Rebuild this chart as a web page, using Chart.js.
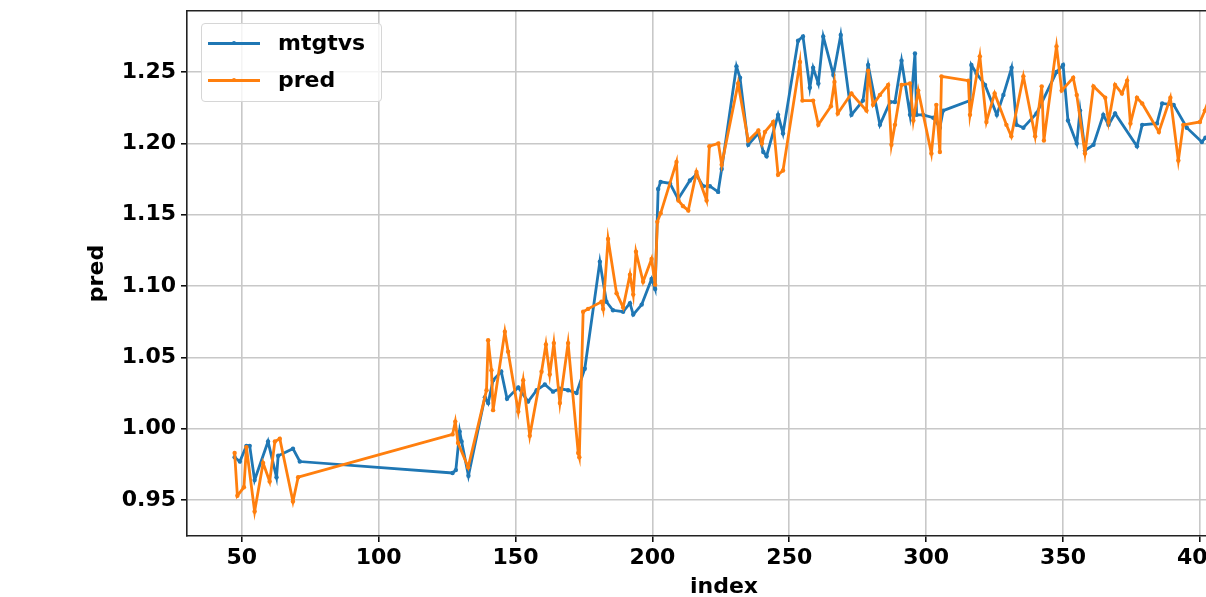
<!DOCTYPE html>
<html>
<head>
<meta charset="utf-8">
<script src="https://cdn.jsdelivr.net/npm/chart.js@4"></script>
<style>
  body { margin: 0; background: #fff; }
  #wrap { position: relative; width: 1206px; height: 597px; overflow: hidden; }
  #chart { position: absolute; left: 0; top: 0; }
  #legend {
    position: absolute; left: 201px; top: 23px; width: 181px; height: 79px;
    box-sizing: border-box; border: 1px solid #d6d6d6; border-radius: 4px;
    background: rgba(255, 255, 255, 0.8);
    font: bold 22px "DejaVu Sans", sans-serif; color: #000;
  }
  .row { position: absolute; left: 0; height: 30px; width: 100%; }
  .swatch { position: absolute; left: 6px; top: 14px; width: 52px; height: 3px; }
  .dot { position: absolute; left: 24px; top: -1px; width: 4px; height: 4px; border-radius: 2px; }
  .label { position: absolute; left: 76px; top: 0; line-height: 30px; }
</style>
</head>
<body>
<div id="wrap">
  <canvas id="chart" width="1300" height="620"></canvas>
  <div id="legend"></div>
</div>
<script>
// series
const mtgtvsIndex = [47.4, 49.3, 51.7, 52.9, 54.7, 59.6, 62.7, 63.3, 68.7, 71.2,
  127.0, 128.2, 129.6, 130.3, 132.8, 138.8, 140.0, 141.8, 144.8, 146.9,
  151.0, 154.6, 157.7, 160.7, 163.7, 166.2, 169.2, 172.3, 175.3, 180.8,
  183.2, 185.6, 189.3, 191.8, 193.0, 196.1, 199.7, 201.0, 202.1, 203.0,
  206.4, 209.4, 213.7, 216.0, 218.5, 221.0, 224.0, 225.3, 230.7, 232.0,
  235.0, 238.7, 240.5, 241.7, 245.9, 247.7, 253.2, 255.0, 257.5, 258.7,
  260.6, 262.4, 266.1, 268.8, 272.7, 276.9, 278.8, 283.1, 286.8, 288.6,
  291.0, 294.1, 295.9, 296.5, 298.9, 302.6, 305.0, 306.2, 316.0, 316.5,
  318.4, 321.5, 325.8, 328.2, 331.2, 333.0, 335.5, 340.3, 347.6, 350.0,
  351.8, 355.0, 356.2, 358.0, 361.1, 364.7, 366.6, 369.0, 377.0, 378.9,
  384.3, 386.2, 390.4, 395.2, 400.7, 402.0];
const mtgtvsValues = [0.980, 0.977, 0.988, 0.988, 0.964, 0.991, 0.966, 0.981, 0.986, 0.977,
  0.969, 0.971, 0.998, 0.991, 0.967, 1.022, 1.018, 1.034, 1.040, 1.021,
  1.029, 1.019, 1.027, 1.031, 1.026, 1.028, 1.027, 1.025, 1.042, 1.117,
  1.089, 1.083, 1.082, 1.088, 1.080, 1.087, 1.105, 1.098, 1.168, 1.173,
  1.172, 1.161, 1.174, 1.178, 1.170, 1.170, 1.166, 1.182, 1.254, 1.246,
  1.199, 1.207, 1.194, 1.191, 1.220, 1.207, 1.272, 1.275, 1.239, 1.253,
  1.242, 1.275, 1.248, 1.276, 1.220, 1.230, 1.255, 1.213, 1.229, 1.229,
  1.258, 1.220, 1.263, 1.220, 1.220, 1.218, 1.211, 1.223, 1.230, 1.255,
  1.249, 1.241, 1.220, 1.234, 1.253, 1.213, 1.211, 1.221, 1.250, 1.255,
  1.216, 1.200, 1.223, 1.195, 1.199, 1.220, 1.213, 1.221, 1.198, 1.213,
  1.214, 1.228, 1.227, 1.211, 1.201, 1.204];

const predIndex = [47.4, 48.4, 50.8, 51.7, 54.7, 57.8, 60.2, 62.1, 63.9, 68.7,
  70.6, 127.0, 128.0, 129.0, 132.7, 139.4, 140.0, 141.2, 141.8, 146.1,
  147.3, 151.0, 152.8, 155.2, 159.5, 161.1, 162.5, 164.0, 166.2, 169.2,
  172.9, 173.3, 174.7, 176.5, 181.4, 182.0, 183.8, 186.9, 189.3, 191.8,
  193.0, 194.0, 196.6, 199.7, 201.0, 201.8, 203.0, 208.8, 209.5, 211.2,
  213.1, 216.1, 219.8, 220.8, 224.1, 225.3, 231.3, 235.0, 238.7, 240.0,
  241.1, 244.1, 245.9, 247.7, 253.9, 254.8, 258.7, 260.6, 265.2, 266.5,
  267.7, 272.7, 278.2, 278.8, 280.6, 283.1, 286.1, 287.3, 288.6, 291.0,
  294.1, 295.3, 297.1, 301.9, 303.7, 305.0, 305.6, 315.4, 316.0, 319.6,
  322.0, 325.0, 329.3, 331.1, 335.5, 339.8, 342.2, 343.0, 347.6, 349.5,
  353.7, 355.0, 358.0, 361.1, 365.4, 366.6, 369.0, 371.5, 373.4, 374.6,
  377.0, 378.9, 385.0, 389.2, 392.1, 393.9, 400.0, 401.8, 403.5];
const predValues = [0.983, 0.953, 0.959, 0.987, 0.942, 0.976, 0.963, 0.991, 0.993, 0.949,
  0.966, 0.996, 1.005, 0.990, 0.973, 1.027, 1.062, 1.041, 1.013, 1.068,
  1.054, 1.012, 1.034, 0.995, 1.040, 1.059, 1.038, 1.060, 1.018, 1.060,
  0.983, 0.980, 1.082, 1.084, 1.089, 1.084, 1.133, 1.095, 1.085, 1.108,
  1.094, 1.124, 1.103, 1.119, 1.101, 1.145, 1.151, 1.187, 1.160, 1.156,
  1.153, 1.180, 1.160, 1.198, 1.200, 1.185, 1.242, 1.202, 1.209, 1.200,
  1.208, 1.215, 1.178, 1.181, 1.257, 1.230, 1.230, 1.213, 1.226, 1.243,
  1.221, 1.235, 1.223, 1.251, 1.227, 1.234, 1.241, 1.199, 1.213, 1.241,
  1.242, 1.216, 1.237, 1.193, 1.227, 1.194, 1.247, 1.244, 1.220, 1.261,
  1.215, 1.235, 1.213, 1.205, 1.247, 1.205, 1.240, 1.202, 1.268, 1.237,
  1.246, 1.234, 1.193, 1.240, 1.232, 1.215, 1.241, 1.235, 1.244, 1.214,
  1.232, 1.228, 1.208, 1.232, 1.188, 1.213, 1.215, 1.223, 1.232];

const xTicks = [50, 100, 150, 200, 250, 300, 350, 400];
const yTicks = [0.95, 1.00, 1.05, 1.10, 1.15, 1.20, 1.25];
const xRange = [30, 422.3];
const yRange = [0.9248, 1.2928];

const BLUE = '#1f77b4';
const ORANGE = '#ff7f0e';
const tickFont = { family: 'DejaVu Sans', size: 22, weight: 'bold' };

function toPoints(xs, ys) {
    return xs.map((x, i) => ({ x: x, y: ys[i] }));
}

function series(label, xs, ys, color, order) {
    return {
        label: label,
        data: toPoints(xs, ys),
        borderColor: color,
        backgroundColor: color,
        borderWidth: 2.8,
        pointRadius: 2.2,
        pointHoverRadius: 2.2,
        pointBorderWidth: 0,
        tension: 0,
        order: order
    };
}

// no extra room for tick labels hanging past the plot edges
function noPadding(s) {
    s.paddingTop = 0;
    s.paddingBottom = 0;
    s.paddingLeft = 0;
    s.paddingRight = 0;
}

const chart = new Chart(document.getElementById('chart'), {
    type: 'line',
    data: {
        datasets: [
            series('mtgtvs', mtgtvsIndex, mtgtvsValues, BLUE, 1),
            series('pred', predIndex, predValues, ORANGE, 0)
        ]
    },
    options: {
        responsive: false,
        animation: false,
        devicePixelRatio: 1,
        layout: { padding: { left: 0, right: 39, top: 0, bottom: 0 } },
        plugins: { legend: { display: false }, tooltip: { enabled: false } },
        scales: {
            x: {
                type: 'linear',
                min: xRange[0],
                max: xRange[1],
                afterBuildTicks: s => { s.ticks = xTicks.map(v => ({ value: v })); },
                afterFit: s => { s.height = 84; noPadding(s); },
                ticks: { font: tickFont, color: '#000', padding: 3, maxRotation: 0 },
                grid: { color: '#c8c8c8', lineWidth: 1.6, tickColor: '#000', tickLength: 6, tickWidth: 1.5 },
                border: { color: '#222', width: 1.6 },
                title: { display: true, text: 'index', font: tickFont, color: '#000', padding: { top: 0, bottom: 20 } }
            },
            xTop: {
                type: 'linear',
                position: 'top',
                min: xRange[0],
                max: xRange[1],
                afterFit: s => { s.height = 11; noPadding(s); },
                ticks: { display: false },
                grid: { display: false, drawTicks: false },
                border: { display: true, color: '#222', width: 1.6 }
            },
            y: {
                min: yRange[0],
                max: yRange[1],
                afterBuildTicks: s => { s.ticks = yTicks.map(v => ({ value: v })); },
                afterFit: s => { s.width = 187; noPadding(s); },
                ticks: { font: tickFont, color: '#000', padding: 5, callback: v => Number(v).toFixed(2) },
                grid: { color: '#c8c8c8', lineWidth: 1.6, tickColor: '#000', tickLength: 6, tickWidth: 1.5 },
                border: { color: '#222', width: 1.6 },
                title: { display: true, text: 'pred', font: tickFont, color: '#000', padding: { top: 84, bottom: 0 } }
            }
        }
    }
});

// legend drawn as html, from the chart's datasets
const legend = document.getElementById('legend');
chart.data.datasets.forEach((ds, i) => {
    const row = document.createElement('div');
    row.className = 'row';
    row.style.top = (4 + i * 37) + 'px';
    row.innerHTML = '<div class="swatch" style="background:' + ds.borderColor + '">' +
        '<div class="dot" style="background:' + ds.borderColor + '"></div></div>' +
        '<span class="label">' + ds.label + '</span>';
    legend.appendChild(row);
});
</script>
</body>
</html>
